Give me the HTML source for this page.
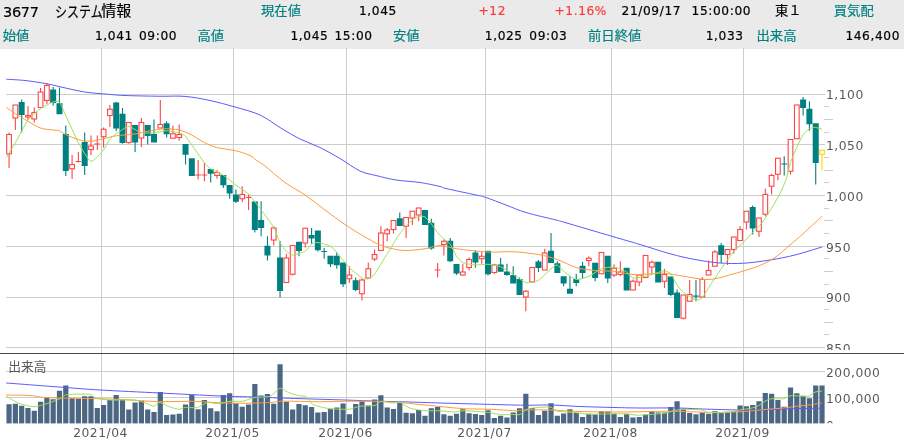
<!DOCTYPE html>
<html lang="ja"><head><meta charset="utf-8"><title>3677 システム情報</title>
<style>
html,body{margin:0;padding:0;background:#fff;}
body{width:904px;height:440px;overflow:hidden;position:relative;font-family:"DejaVu Sans","Liberation Sans","Noto Sans CJK JP",sans-serif;}
#hd{position:absolute;left:0;top:0;width:904px;height:48.5px;background:#eaeaea;}
#hd span{position:absolute;white-space:nowrap;font-size:12.2px;line-height:16px;color:#000;-webkit-text-stroke:0.2px;letter-spacing:0.6px;}
#hd span.j{font-family:"Liberation Sans","Noto Sans CJK JP",sans-serif;font-size:13.33px;letter-spacing:0;transform:scaleY(0.97);transform-origin:0 50%;margin-top:0.7px;}
#hd span.k{transform:scaleX(0.80);transform-origin:0 0;}
#hd span.ti{transform:none;margin-top:0;}
#hd span.t{color:#008080;}
#hd span.r{color:#ff3b3b;}
#hd span.n{text-align:right;}
svg{position:absolute;left:0;top:0;}
svg text{font-family:"DejaVu Sans","Liberation Sans","Noto Sans CJK JP",sans-serif;fill:#585858;}
</style></head><body>
<div id="hd">
<span class="" style="top:3.9px;left:3px;"><span style="position:static;font-size:14.5px;letter-spacing:-0.3px">3677</span></span>
<span class="j k" style="top:3px;left:54.8px;font-size:15px;">システム</span>
<span class="j ti" style="top:3px;left:101.2px;font-size:15px;">情報</span>
<span class="j t" style="top:2.8px;left:261px;">現在値</span>
<span class="n" style="top:2.8px;right:507.1px;">1,045</span>
<span class="r" style="top:2.8px;left:478.5px;">+12</span>
<span class="r" style="top:2.8px;left:554.5px;">+1.16%</span>
<span class="" style="top:2.8px;left:621.6px;">21/09/17</span>
<span class="" style="top:2.8px;left:691.6px;">15:00:00</span>
<span class="j" style="top:2.8px;left:775px;">東１</span>
<span class="j t" style="top:2.8px;left:833.8px;">買気配</span>
<span class="j t" style="top:27.8px;left:2.8px;">始値</span>
<span class="n" style="top:27.8px;right:771.1px;">1,041</span>
<span class="" style="top:27.8px;left:139px;">09:00</span>
<span class="j t" style="top:27.8px;left:197.5px;">高値</span>
<span class="n" style="top:27.8px;right:575.6px;">1,045</span>
<span class="" style="top:27.8px;left:334.5px;">15:00</span>
<span class="j t" style="top:27.8px;left:393px;">安値</span>
<span class="n" style="top:27.8px;right:381.3px;">1,025</span>
<span class="" style="top:27.8px;left:529.3px;">09:03</span>
<span class="j t" style="top:27.8px;left:588px;">前日終値</span>
<span class="n" style="top:27.8px;right:160.4px;">1,033</span>
<span class="j t" style="top:27.8px;left:756.5px;">出来高</span>
<span class="n" style="top:27.8px;right:4px;">146,400</span>
</div>
<svg width="904" height="440" viewBox="0 0 904 440">
<path d="M6 94.50 H825 M6 144.50 H825 M6 195.50 H825 M6 246.50 H825 M6 297.50 H825 M6 347.50 H825 M6 371.50 H825 M6 397.50 H825 M101.50 48 V424 M233.50 48 V424 M346.50 48 V424 M485.50 48 V424 M611.50 48 V424 M743.50 48 V424" stroke="#cdcdcd" stroke-width="1" fill="none"/>
<path d="M824 106.50 H829 M824 119.50 H833 M824 132.50 H829 M824 157.50 H829 M824 170.50 H833 M824 182.50 H829 M824 208.50 H829 M824 220.50 H833 M824 233.50 H829 M824 258.50 H829 M824 271.50 H833 M824 284.50 H829 M824 309.50 H829 M824 322.50 H833 M824 334.50 H829" stroke="#cdcdcd" stroke-width="1" fill="none"/>
<path d="M9.06 132.50 V134.50M9.06 153.75 V168.00" stroke="#ff4545" stroke-width="1.1" fill="none"/>
<rect x="6.71" y="134.50" width="4.70" height="19.25" fill="#fff" stroke="#ff4545" stroke-width="1.1"/>
<path d="M15.36 118.00 V130.00" stroke="#ff4545" stroke-width="1.1" fill="none"/>
<rect x="13.01" y="105.00" width="4.70" height="13.00" fill="#fff" stroke="#ff4545" stroke-width="1.1"/>
<path d="M21.66 99.50 V132.50" stroke="#008080" stroke-width="1.1" fill="none"/>
<rect x="18.66" y="102.00" width="6.00" height="13.00" fill="#008080"/>
<path d="M27.97 106.00 V115.50M27.97 117.00 V120.00" stroke="#ff4545" stroke-width="1.1" fill="none"/>
<rect x="25.62" y="115.50" width="4.70" height="1.50" fill="#fff" stroke="#ff4545" stroke-width="1.1"/>
<path d="M34.27 107.50 V112.50M34.27 119.00 V122.50" stroke="#ff4545" stroke-width="1.1" fill="none"/>
<rect x="31.92" y="112.50" width="4.70" height="6.50" fill="#fff" stroke="#ff4545" stroke-width="1.1"/>
<path d="M40.57 88.00 V92.00" stroke="#ff4545" stroke-width="1.1" fill="none"/>
<rect x="38.22" y="92.00" width="4.70" height="15.50" fill="#fff" stroke="#ff4545" stroke-width="1.1"/>
<path d="M46.87 83.00 V85.50M46.87 100.50 V104.00" stroke="#ff4545" stroke-width="1.1" fill="none"/>
<rect x="44.52" y="85.50" width="4.70" height="15.00" fill="#fff" stroke="#ff4545" stroke-width="1.1"/>
<path d="M53.17 87.00 V105.50" stroke="#008080" stroke-width="1.1" fill="none"/>
<rect x="50.17" y="89.50" width="6.00" height="13.50" fill="#008080"/>
<path d="M59.48 87.50 V113.75" stroke="#008080" stroke-width="1.1" fill="none"/>
<rect x="56.48" y="103.25" width="6.00" height="11.00" fill="#008080"/>
<path d="M65.78 125.50 V176.00" stroke="#008080" stroke-width="1.1" fill="none"/>
<rect x="62.78" y="134.00" width="6.00" height="37.00" fill="#008080"/>
<path d="M72.08 155.00 V164.50M72.08 168.75 V179.00" stroke="#ff4545" stroke-width="1.1" fill="none"/>
<rect x="69.73" y="164.50" width="4.70" height="4.25" fill="#fff" stroke="#ff4545" stroke-width="1.1"/>
<path d="M78.38 152.00 V162.50 M75.53 161.50 H81.23" stroke="#ff4545" stroke-width="1.1" fill="none"/>
<path d="M84.68 132.50 V175.00" stroke="#008080" stroke-width="1.1" fill="none"/>
<rect x="81.68" y="142.00" width="6.00" height="24.00" fill="#008080"/>
<path d="M90.99 135.50 V146.00M90.99 149.50 V155.00" stroke="#ff4545" stroke-width="1.1" fill="none"/>
<rect x="88.64" y="146.00" width="4.70" height="3.50" fill="#fff" stroke="#ff4545" stroke-width="1.1"/>
<path d="M97.29 135.50 V150.00 M94.44 144.00 H100.14" stroke="#ff4545" stroke-width="1.1" fill="none"/>
<path d="M103.59 127.50 V129.25M103.59 136.75 V147.50" stroke="#ff4545" stroke-width="1.1" fill="none"/>
<rect x="101.24" y="129.25" width="4.70" height="7.50" fill="#fff" stroke="#ff4545" stroke-width="1.1"/>
<path d="M109.89 105.00 V109.25M109.89 115.50 V127.00" stroke="#ff4545" stroke-width="1.1" fill="none"/>
<rect x="107.54" y="109.25" width="4.70" height="6.25" fill="#fff" stroke="#ff4545" stroke-width="1.1"/>
<path d="M116.19 102.00 V131.25" stroke="#008080" stroke-width="1.1" fill="none"/>
<rect x="113.19" y="102.50" width="6.00" height="26.00" fill="#008080"/>
<path d="M122.50 108.00 V143.75" stroke="#008080" stroke-width="1.1" fill="none"/>
<rect x="119.50" y="113.75" width="6.00" height="29.25" fill="#008080"/>
<path d="M128.80 142.50 V143.75" stroke="#ff4545" stroke-width="1.1" fill="none"/>
<rect x="126.45" y="122.50" width="4.70" height="20.00" fill="#fff" stroke="#ff4545" stroke-width="1.1"/>
<path d="M135.10 125.50 V152.00" stroke="#008080" stroke-width="1.1" fill="none"/>
<rect x="132.10" y="125.00" width="6.00" height="17.50" fill="#008080"/>
<path d="M141.40 118.00 V122.50M141.40 138.00 V147.00" stroke="#ff4545" stroke-width="1.1" fill="none"/>
<rect x="139.05" y="122.50" width="4.70" height="15.50" fill="#fff" stroke="#ff4545" stroke-width="1.1"/>
<path d="M147.70 125.50 V144.50" stroke="#008080" stroke-width="1.1" fill="none"/>
<rect x="144.70" y="125.00" width="6.00" height="11.00" fill="#008080"/>
<path d="M154.01 119.50 V142.00" stroke="#008080" stroke-width="1.1" fill="none"/>
<rect x="151.01" y="134.00" width="6.00" height="8.50" fill="#008080"/>
<path d="M160.31 100.00 V124.50" stroke="#ff4545" stroke-width="1.1" fill="none"/>
<rect x="157.96" y="124.50" width="4.70" height="3.50" fill="#fff" stroke="#ff4545" stroke-width="1.1"/>
<path d="M166.61 121.25 V137.50" stroke="#008080" stroke-width="1.1" fill="none"/>
<rect x="163.61" y="123.25" width="6.00" height="11.00" fill="#008080"/>
<path d="M172.91 125.50 V133.75" stroke="#ff4545" stroke-width="1.1" fill="none"/>
<rect x="170.56" y="133.75" width="4.70" height="4.50" fill="#fff" stroke="#ff4545" stroke-width="1.1"/>
<path d="M179.21 124.50 V134.50M179.21 137.50 V140.75" stroke="#ff4545" stroke-width="1.1" fill="none"/>
<rect x="176.86" y="134.50" width="4.70" height="3.00" fill="#fff" stroke="#ff4545" stroke-width="1.1"/>
<path d="M185.52 144.50 V164.50" stroke="#008080" stroke-width="1.1" fill="none"/>
<rect x="182.52" y="144.00" width="6.00" height="10.75" fill="#008080"/>
<rect x="188.82" y="158.25" width="6.00" height="17.75" fill="#008080"/>
<path d="M198.12 160.00 V179.50 M195.27 175.00 H200.97" stroke="#ff4545" stroke-width="1.1" fill="none"/>
<path d="M204.42 162.50 V181.25 M201.57 175.00 H207.27" stroke="#ff4545" stroke-width="1.1" fill="none"/>
<path d="M210.72 169.50 V182.50" stroke="#008080" stroke-width="1.1" fill="none"/>
<rect x="207.72" y="169.00" width="6.00" height="4.75" fill="#008080"/>
<path d="M217.03 170.00 V172.50M217.03 175.50 V178.75" stroke="#ff4545" stroke-width="1.1" fill="none"/>
<rect x="214.68" y="172.50" width="4.70" height="3.00" fill="#fff" stroke="#ff4545" stroke-width="1.1"/>
<path d="M223.33 175.50 V188.00" stroke="#008080" stroke-width="1.1" fill="none"/>
<rect x="220.33" y="175.00" width="6.00" height="10.25" fill="#008080"/>
<path d="M229.63 185.50 V198.75" stroke="#008080" stroke-width="1.1" fill="none"/>
<rect x="226.63" y="185.00" width="6.00" height="8.50" fill="#008080"/>
<path d="M235.93 189.50 V203.00" stroke="#008080" stroke-width="1.1" fill="none"/>
<rect x="232.93" y="194.50" width="6.00" height="7.25" fill="#008080"/>
<path d="M242.23 186.25 V194.50M242.23 198.75 V202.00" stroke="#ff4545" stroke-width="1.1" fill="none"/>
<rect x="239.88" y="194.50" width="4.70" height="4.25" fill="#fff" stroke="#ff4545" stroke-width="1.1"/>
<path d="M248.54 194.50 V210.00 M245.69 197.50 H251.39" stroke="#ff4545" stroke-width="1.1" fill="none"/>
<path d="M254.84 202.00 V232.50" stroke="#008080" stroke-width="1.1" fill="none"/>
<rect x="251.84" y="201.50" width="6.00" height="28.50" fill="#008080"/>
<path d="M261.14 201.25 V236.25" stroke="#008080" stroke-width="1.1" fill="none"/>
<rect x="258.14" y="220.00" width="6.00" height="8.00" fill="#008080"/>
<path d="M267.44 236.25 V260.50" stroke="#008080" stroke-width="1.1" fill="none"/>
<rect x="264.44" y="245.75" width="6.00" height="9.75" fill="#008080"/>
<path d="M273.74 226.25 V228.00M273.74 240.00 V245.50" stroke="#ff4545" stroke-width="1.1" fill="none"/>
<rect x="271.39" y="228.00" width="4.70" height="12.00" fill="#fff" stroke="#ff4545" stroke-width="1.1"/>
<path d="M280.05 241.00 V297.40" stroke="#008080" stroke-width="1.1" fill="none"/>
<rect x="277.05" y="257.50" width="6.00" height="33.50" fill="#008080"/>
<path d="M286.35 253.75 V258.00" stroke="#ff4545" stroke-width="1.1" fill="none"/>
<rect x="284.00" y="258.00" width="4.70" height="24.50" fill="#fff" stroke="#ff4545" stroke-width="1.1"/>
<path d="M292.65 274.25 V275.50" stroke="#ff4545" stroke-width="1.1" fill="none"/>
<rect x="290.30" y="245.50" width="4.70" height="28.75" fill="#fff" stroke="#ff4545" stroke-width="1.1"/>
<path d="M298.95 242.25 V256.25" stroke="#008080" stroke-width="1.1" fill="none"/>
<rect x="295.95" y="241.75" width="6.00" height="9.25" fill="#008080"/>
<path d="M305.25 243.00 V247.50" stroke="#ff4545" stroke-width="1.1" fill="none"/>
<rect x="302.90" y="228.25" width="4.70" height="14.75" fill="#fff" stroke="#ff4545" stroke-width="1.1"/>
<path d="M311.56 228.00 V243.75" stroke="#008080" stroke-width="1.1" fill="none"/>
<rect x="308.56" y="235.00" width="6.00" height="3.50" fill="#008080"/>
<path d="M317.86 231.00 V251.50" stroke="#008080" stroke-width="1.1" fill="none"/>
<rect x="314.86" y="230.50" width="6.00" height="19.75" fill="#008080"/>
<path d="M324.16 248.00 V258.75 M321.31 251.50 H327.01" stroke="#008080" stroke-width="1.1" fill="none"/>
<path d="M330.46 256.25 V267.00" stroke="#008080" stroke-width="1.1" fill="none"/>
<rect x="327.46" y="255.75" width="6.00" height="8.50" fill="#008080"/>
<path d="M336.76 252.50 V268.75" stroke="#008080" stroke-width="1.1" fill="none"/>
<rect x="333.76" y="255.75" width="6.00" height="9.50" fill="#008080"/>
<path d="M343.07 263.00 V287.00" stroke="#008080" stroke-width="1.1" fill="none"/>
<rect x="340.07" y="262.50" width="6.00" height="21.75" fill="#008080"/>
<path d="M349.37 266.25 V275.00M349.37 278.75 V283.00" stroke="#ff4545" stroke-width="1.1" fill="none"/>
<rect x="347.02" y="275.00" width="4.70" height="3.75" fill="#fff" stroke="#ff4545" stroke-width="1.1"/>
<path d="M355.67 277.50 V291.25" stroke="#008080" stroke-width="1.1" fill="none"/>
<rect x="352.67" y="280.25" width="6.00" height="9.75" fill="#008080"/>
<path d="M361.97 278.75 V280.00M361.97 293.75 V300.50" stroke="#ff4545" stroke-width="1.1" fill="none"/>
<rect x="359.62" y="280.00" width="4.70" height="13.75" fill="#fff" stroke="#ff4545" stroke-width="1.1"/>
<path d="M368.27 262.50 V268.75M368.27 278.00 V278.75" stroke="#ff4545" stroke-width="1.1" fill="none"/>
<rect x="365.92" y="268.75" width="4.70" height="9.25" fill="#fff" stroke="#ff4545" stroke-width="1.1"/>
<path d="M374.58 249.50 V254.50M374.58 259.00 V261.25" stroke="#ff4545" stroke-width="1.1" fill="none"/>
<rect x="372.23" y="254.50" width="4.70" height="4.50" fill="#fff" stroke="#ff4545" stroke-width="1.1"/>
<path d="M380.88 226.25 V233.00" stroke="#ff4545" stroke-width="1.1" fill="none"/>
<rect x="378.53" y="233.00" width="4.70" height="17.50" fill="#fff" stroke="#ff4545" stroke-width="1.1"/>
<path d="M387.18 228.00 V230.00M387.18 233.75 V241.25" stroke="#ff4545" stroke-width="1.1" fill="none"/>
<rect x="384.83" y="230.00" width="4.70" height="3.75" fill="#fff" stroke="#ff4545" stroke-width="1.1"/>
<path d="M393.48 229.50 V233.50" stroke="#ff4545" stroke-width="1.1" fill="none"/>
<rect x="391.13" y="220.50" width="4.70" height="9.00" fill="#fff" stroke="#ff4545" stroke-width="1.1"/>
<path d="M399.78 212.50 V225.50" stroke="#008080" stroke-width="1.1" fill="none"/>
<rect x="396.78" y="218.25" width="6.00" height="7.75" fill="#008080"/>
<path d="M406.09 226.25 V238.00" stroke="#ff4545" stroke-width="1.1" fill="none"/>
<rect x="403.74" y="217.50" width="4.70" height="8.75" fill="#fff" stroke="#ff4545" stroke-width="1.1"/>
<path d="M412.39 218.00 V225.00" stroke="#ff4545" stroke-width="1.1" fill="none"/>
<rect x="410.04" y="211.25" width="4.70" height="6.75" fill="#fff" stroke="#ff4545" stroke-width="1.1"/>
<path d="M418.69 215.00 V221.25" stroke="#ff4545" stroke-width="1.1" fill="none"/>
<rect x="416.34" y="208.00" width="4.70" height="7.00" fill="#fff" stroke="#ff4545" stroke-width="1.1"/>
<rect x="421.99" y="210.00" width="6.00" height="15.00" fill="#008080"/>
<path d="M431.29 218.75 V249.75" stroke="#008080" stroke-width="1.1" fill="none"/>
<rect x="428.29" y="222.75" width="6.00" height="25.75" fill="#008080"/>
<path d="M437.60 263.00 V277.25 M434.75 270.00 H440.45" stroke="#ff4545" stroke-width="1.1" fill="none"/>
<path d="M443.90 239.50 V241.25M443.90 244.50 V255.50" stroke="#ff4545" stroke-width="1.1" fill="none"/>
<rect x="441.55" y="241.25" width="4.70" height="3.25" fill="#fff" stroke="#ff4545" stroke-width="1.1"/>
<path d="M450.20 238.00 V262.00" stroke="#008080" stroke-width="1.1" fill="none"/>
<rect x="447.20" y="240.75" width="6.00" height="20.50" fill="#008080"/>
<path d="M456.50 264.50 V275.00" stroke="#008080" stroke-width="1.1" fill="none"/>
<rect x="453.50" y="264.00" width="6.00" height="9.50" fill="#008080"/>
<path d="M462.80 263.75 V272.00M462.80 275.00 V275.50" stroke="#ff4545" stroke-width="1.1" fill="none"/>
<rect x="460.45" y="272.00" width="4.70" height="3.00" fill="#fff" stroke="#ff4545" stroke-width="1.1"/>
<path d="M469.11 257.50 V259.50M469.11 267.50 V270.50" stroke="#ff4545" stroke-width="1.1" fill="none"/>
<rect x="466.76" y="259.50" width="4.70" height="8.00" fill="#fff" stroke="#ff4545" stroke-width="1.1"/>
<path d="M475.41 250.00 V267.75" stroke="#008080" stroke-width="1.1" fill="none"/>
<rect x="472.41" y="252.50" width="6.00" height="10.00" fill="#008080"/>
<path d="M481.71 252.00 V256.25M481.71 258.75 V263.75" stroke="#ff4545" stroke-width="1.1" fill="none"/>
<rect x="479.36" y="256.25" width="4.70" height="2.50" fill="#fff" stroke="#ff4545" stroke-width="1.1"/>
<path d="M488.01 251.25 V275.50" stroke="#008080" stroke-width="1.1" fill="none"/>
<rect x="485.01" y="250.75" width="6.00" height="23.50" fill="#008080"/>
<path d="M494.31 263.75 V265.00M494.31 272.50 V273.75" stroke="#ff4545" stroke-width="1.1" fill="none"/>
<rect x="491.96" y="265.00" width="4.70" height="7.50" fill="#fff" stroke="#ff4545" stroke-width="1.1"/>
<path d="M500.62 258.00 V271.25" stroke="#008080" stroke-width="1.1" fill="none"/>
<rect x="497.62" y="264.50" width="6.00" height="7.25" fill="#008080"/>
<path d="M506.92 263.75 V275.75" stroke="#008080" stroke-width="1.1" fill="none"/>
<rect x="503.92" y="271.50" width="6.00" height="3.50" fill="#008080"/>
<path d="M513.22 266.25 V283.00" stroke="#008080" stroke-width="1.1" fill="none"/>
<rect x="510.22" y="275.00" width="6.00" height="8.50" fill="#008080"/>
<path d="M519.52 277.50 V294.50" stroke="#008080" stroke-width="1.1" fill="none"/>
<rect x="516.52" y="279.00" width="6.00" height="16.00" fill="#008080"/>
<path d="M525.82 290.00 V291.25M525.82 297.00 V311.25" stroke="#ff4545" stroke-width="1.1" fill="none"/>
<rect x="523.47" y="291.25" width="4.70" height="5.75" fill="#fff" stroke="#ff4545" stroke-width="1.1"/>
<rect x="529.78" y="267.50" width="4.70" height="14.50" fill="#fff" stroke="#ff4545" stroke-width="1.1"/>
<path d="M538.43 260.00 V272.00" stroke="#008080" stroke-width="1.1" fill="none"/>
<rect x="535.43" y="261.50" width="6.00" height="6.50" fill="#008080"/>
<path d="M544.73 248.75 V253.00" stroke="#ff4545" stroke-width="1.1" fill="none"/>
<rect x="542.38" y="253.00" width="4.70" height="17.00" fill="#fff" stroke="#ff4545" stroke-width="1.1"/>
<path d="M551.03 233.00 V262.50" stroke="#008080" stroke-width="1.1" fill="none"/>
<rect x="548.03" y="250.75" width="6.00" height="12.25" fill="#008080"/>
<path d="M557.33 261.25 V272.50" stroke="#008080" stroke-width="1.1" fill="none"/>
<rect x="554.33" y="263.25" width="6.00" height="9.75" fill="#008080"/>
<path d="M563.64 276.75 V286.25" stroke="#008080" stroke-width="1.1" fill="none"/>
<rect x="560.64" y="276.25" width="6.00" height="7.25" fill="#008080"/>
<path d="M569.94 276.25 V293.25" stroke="#008080" stroke-width="1.1" fill="none"/>
<rect x="566.94" y="288.75" width="6.00" height="5.00" fill="#008080"/>
<path d="M576.24 273.75 V286.25" stroke="#008080" stroke-width="1.1" fill="none"/>
<rect x="573.24" y="279.00" width="6.00" height="4.00" fill="#008080"/>
<path d="M582.54 262.00 V278.75" stroke="#008080" stroke-width="1.1" fill="none"/>
<rect x="579.54" y="265.75" width="6.00" height="7.25" fill="#008080"/>
<path d="M588.84 256.25 V258.25M588.84 260.50 V266.25" stroke="#ff4545" stroke-width="1.1" fill="none"/>
<rect x="586.49" y="258.25" width="4.70" height="2.25" fill="#fff" stroke="#ff4545" stroke-width="1.1"/>
<path d="M595.15 263.25 V281.25" stroke="#008080" stroke-width="1.1" fill="none"/>
<rect x="592.15" y="262.75" width="6.00" height="15.25" fill="#008080"/>
<rect x="599.10" y="252.50" width="4.70" height="21.25" fill="#fff" stroke="#ff4545" stroke-width="1.1"/>
<path d="M607.75 256.25 V283.00" stroke="#008080" stroke-width="1.1" fill="none"/>
<rect x="604.75" y="255.75" width="6.00" height="22.75" fill="#008080"/>
<path d="M614.05 264.50 V268.25M614.05 275.00 V277.00" stroke="#ff4545" stroke-width="1.1" fill="none"/>
<rect x="611.70" y="268.25" width="4.70" height="6.75" fill="#fff" stroke="#ff4545" stroke-width="1.1"/>
<path d="M620.35 261.25 V272.00M620.35 274.50 V276.25" stroke="#ff4545" stroke-width="1.1" fill="none"/>
<rect x="618.00" y="272.00" width="4.70" height="2.50" fill="#fff" stroke="#ff4545" stroke-width="1.1"/>
<rect x="623.66" y="267.75" width="6.00" height="22.75" fill="#008080"/>
<path d="M632.96 279.50 V281.25" stroke="#ff4545" stroke-width="1.1" fill="none"/>
<rect x="630.61" y="281.25" width="4.70" height="8.75" fill="#fff" stroke="#ff4545" stroke-width="1.1"/>
<path d="M639.26 282.00 V286.25" stroke="#ff4545" stroke-width="1.1" fill="none"/>
<rect x="636.91" y="275.00" width="4.70" height="7.00" fill="#fff" stroke="#ff4545" stroke-width="1.1"/>
<rect x="643.21" y="255.50" width="4.70" height="22.00" fill="#fff" stroke="#ff4545" stroke-width="1.1"/>
<path d="M651.86 260.50 V262.25M651.86 267.00 V273.75" stroke="#ff4545" stroke-width="1.1" fill="none"/>
<rect x="649.51" y="262.25" width="4.70" height="4.75" fill="#fff" stroke="#ff4545" stroke-width="1.1"/>
<rect x="655.17" y="261.75" width="6.00" height="20.75" fill="#008080"/>
<path d="M664.47 268.75 V274.50M664.47 281.25 V288.00" stroke="#ff4545" stroke-width="1.1" fill="none"/>
<rect x="662.12" y="274.50" width="4.70" height="6.75" fill="#fff" stroke="#ff4545" stroke-width="1.1"/>
<path d="M670.77 277.00 V296.25" stroke="#008080" stroke-width="1.1" fill="none"/>
<rect x="667.77" y="276.50" width="6.00" height="18.50" fill="#008080"/>
<path d="M677.07 289.50 V317.50" stroke="#008080" stroke-width="1.1" fill="none"/>
<rect x="674.07" y="292.50" width="6.00" height="25.50" fill="#008080"/>
<path d="M683.37 318.25 V319.50" stroke="#ff4545" stroke-width="1.1" fill="none"/>
<rect x="681.02" y="295.00" width="4.70" height="23.25" fill="#fff" stroke="#ff4545" stroke-width="1.1"/>
<path d="M689.68 280.00 V294.50" stroke="#ff4545" stroke-width="1.1" fill="none"/>
<rect x="687.33" y="294.50" width="4.70" height="6.75" fill="#fff" stroke="#ff4545" stroke-width="1.1"/>
<path d="M695.98 280.00 V301.25 M693.13 296.12 H698.83" stroke="#008080" stroke-width="1.1" fill="none"/>
<path d="M702.28 277.00 V279.50" stroke="#ff4545" stroke-width="1.1" fill="none"/>
<rect x="699.93" y="279.50" width="4.70" height="17.50" fill="#fff" stroke="#ff4545" stroke-width="1.1"/>
<path d="M708.58 260.50 V270.50" stroke="#ff4545" stroke-width="1.1" fill="none"/>
<rect x="706.23" y="270.50" width="4.70" height="4.50" fill="#fff" stroke="#ff4545" stroke-width="1.1"/>
<path d="M714.88 250.00 V252.00" stroke="#ff4545" stroke-width="1.1" fill="none"/>
<rect x="712.53" y="252.00" width="4.70" height="14.25" fill="#fff" stroke="#ff4545" stroke-width="1.1"/>
<path d="M721.19 243.00 V263.00" stroke="#008080" stroke-width="1.1" fill="none"/>
<rect x="718.19" y="245.25" width="6.00" height="9.75" fill="#008080"/>
<path d="M727.49 254.50 V265.00" stroke="#ff4545" stroke-width="1.1" fill="none"/>
<rect x="725.14" y="249.50" width="4.70" height="5.00" fill="#fff" stroke="#ff4545" stroke-width="1.1"/>
<path d="M733.79 249.50 V253.75" stroke="#ff4545" stroke-width="1.1" fill="none"/>
<rect x="731.44" y="237.00" width="4.70" height="12.50" fill="#fff" stroke="#ff4545" stroke-width="1.1"/>
<path d="M740.09 226.25 V229.50" stroke="#ff4545" stroke-width="1.1" fill="none"/>
<rect x="737.74" y="229.50" width="4.70" height="11.00" fill="#fff" stroke="#ff4545" stroke-width="1.1"/>
<path d="M746.39 222.00 V229.50" stroke="#ff4545" stroke-width="1.1" fill="none"/>
<rect x="744.04" y="211.25" width="4.70" height="10.75" fill="#fff" stroke="#ff4545" stroke-width="1.1"/>
<path d="M752.70 205.50 V234.50" stroke="#008080" stroke-width="1.1" fill="none"/>
<rect x="749.70" y="207.00" width="6.00" height="21.50" fill="#008080"/>
<path d="M759.00 231.25 V237.00" stroke="#ff4545" stroke-width="1.1" fill="none"/>
<rect x="756.65" y="218.00" width="4.70" height="13.25" fill="#fff" stroke="#ff4545" stroke-width="1.1"/>
<path d="M765.30 188.75 V194.50M765.30 214.25 V216.25" stroke="#ff4545" stroke-width="1.1" fill="none"/>
<rect x="762.95" y="194.50" width="4.70" height="19.75" fill="#fff" stroke="#ff4545" stroke-width="1.1"/>
<path d="M771.60 173.75 V175.50M771.60 186.25 V194.50" stroke="#ff4545" stroke-width="1.1" fill="none"/>
<rect x="769.25" y="175.50" width="4.70" height="10.75" fill="#fff" stroke="#ff4545" stroke-width="1.1"/>
<path d="M777.90 174.25 V180.25" stroke="#ff4545" stroke-width="1.1" fill="none"/>
<rect x="775.55" y="158.25" width="4.70" height="16.00" fill="#fff" stroke="#ff4545" stroke-width="1.1"/>
<path d="M784.21 156.25 V175.50 M781.36 164.05 H787.06" stroke="#008080" stroke-width="1.1" fill="none"/>
<path d="M790.51 171.25 V174.50" stroke="#ff4545" stroke-width="1.1" fill="none"/>
<rect x="788.16" y="139.50" width="4.70" height="31.75" fill="#fff" stroke="#ff4545" stroke-width="1.1"/>
<rect x="794.46" y="105.00" width="4.70" height="33.75" fill="#fff" stroke="#ff4545" stroke-width="1.1"/>
<path d="M803.11 97.00 V115.50" stroke="#008080" stroke-width="1.1" fill="none"/>
<rect x="800.11" y="99.50" width="6.00" height="8.50" fill="#008080"/>
<path d="M809.41 101.25 V130.75" stroke="#008080" stroke-width="1.1" fill="none"/>
<rect x="806.41" y="108.75" width="6.00" height="15.50" fill="#008080"/>
<path d="M815.72 123.75 V184.50" stroke="#008080" stroke-width="1.1" fill="none"/>
<rect x="812.72" y="123.25" width="6.00" height="39.75" fill="#008080"/>
<path d="M822.02 154.40 V170.50" stroke="#ffd700" stroke-width="1.1" fill="none"/>
<rect x="819.67" y="150.30" width="4.70" height="4.10" fill="#fff" stroke="#ffd700" stroke-width="1.1"/>
<path d="M6.25 79.25 C9.38 79.46 18.25 79.75 25.00 80.50 C31.75 81.25 40.00 82.50 46.75 83.75 C53.50 85.00 59.21 86.62 65.50 88.00 C71.79 89.38 78.17 91.02 84.50 92.00 C90.83 92.98 96.75 93.32 103.50 93.90 C110.25 94.48 115.58 95.11 125.00 95.50 C134.42 95.89 150.00 96.10 160.00 96.25 C170.00 96.40 176.67 95.69 185.00 96.40 C193.33 97.11 201.67 98.73 210.00 100.50 C218.33 102.27 226.67 104.58 235.00 107.00 C243.33 109.42 252.50 111.58 260.00 115.00 C267.50 118.42 273.33 123.50 280.00 127.50 C286.67 131.50 293.33 135.67 300.00 139.00 C306.67 142.33 313.33 144.25 320.00 147.50 C326.67 150.75 333.33 154.58 340.00 158.50 C346.67 162.42 354.00 168.17 360.00 171.00 C366.00 173.83 370.00 174.00 376.00 175.50 C382.00 177.00 388.67 178.83 396.00 180.00 C403.33 181.17 412.67 181.42 420.00 182.50 C427.33 183.58 435.67 185.50 440.00 186.50 C444.33 187.50 440.00 187.08 446.00 188.50 C452.00 189.92 469.33 193.50 476.00 195.00 C482.67 196.50 481.00 195.83 486.00 197.50 C491.00 199.17 499.33 202.50 506.00 205.00 C512.67 207.50 517.67 210.00 526.00 212.50 C534.33 215.00 549.50 218.33 556.00 220.00 C562.50 221.67 555.71 219.79 565.00 222.50 C574.29 225.21 599.25 232.58 611.75 236.25 C624.25 239.92 630.29 241.58 640.00 244.50 C649.71 247.42 660.83 251.25 670.00 253.75 C679.17 256.25 686.67 257.96 695.00 259.50 C703.33 261.04 711.92 262.38 720.00 263.00 C728.08 263.62 735.17 263.75 743.50 263.25 C751.83 262.75 761.42 261.38 770.00 260.00 C778.58 258.62 786.33 257.17 795.00 255.00 C803.67 252.83 817.50 248.33 822.00 247.00" stroke="#5a5aff" stroke-width="1" fill="none" stroke-linejoin="round"/>
<path d="M6.25 107.50 C7.79 108.54 11.88 111.46 15.50 113.75 C19.12 116.04 23.83 118.88 28.00 121.25 C32.17 123.62 36.33 126.54 40.50 128.00 C44.67 129.46 49.88 129.54 53.00 130.00 C56.12 130.46 57.17 130.00 59.25 130.75 C61.33 131.50 62.33 133.04 65.50 134.50 C68.67 135.96 74.04 138.38 78.25 139.50 C82.46 140.62 86.54 141.38 90.75 141.25 C94.96 141.12 99.25 139.66 103.50 138.75 C107.75 137.84 111.00 136.59 116.25 135.80 C121.50 135.01 129.88 134.75 135.00 134.00 C140.12 133.25 142.83 132.08 147.00 131.30 C151.17 130.52 156.79 129.73 160.00 129.30 C163.21 128.88 163.08 128.63 166.25 128.75 C169.42 128.87 174.75 128.96 179.00 130.00 C183.25 131.04 187.54 132.92 191.75 135.00 C195.96 137.08 200.08 140.42 204.25 142.50 C208.42 144.58 211.50 146.12 216.75 147.50 C222.00 148.88 230.21 149.42 235.75 150.75 C241.29 152.08 246.62 153.96 250.00 155.50 C253.38 157.04 253.50 158.25 256.00 160.00 C258.50 161.75 260.17 162.25 265.00 166.00 C269.83 169.75 278.33 177.67 285.00 182.50 C291.67 187.33 298.33 190.42 305.00 195.00 C311.67 199.58 318.33 205.08 325.00 210.00 C331.67 214.92 338.75 220.25 345.00 224.50 C351.25 228.75 356.67 232.08 362.50 235.50 C368.33 238.92 375.00 242.79 380.00 245.00 C385.00 247.21 388.17 247.83 392.50 248.75 C396.83 249.67 400.58 250.50 406.00 250.50 C411.42 250.50 419.33 249.58 425.00 248.75 C430.67 247.92 434.75 245.50 440.00 245.50 C445.25 245.50 448.50 247.67 456.50 248.75 C464.50 249.83 478.58 251.50 488.00 252.00 C497.42 252.50 504.62 251.33 513.00 251.75 C521.38 252.17 530.88 253.21 538.25 254.50 C545.62 255.79 550.92 257.33 557.25 259.50 C563.58 261.67 569.92 265.67 576.25 267.50 C582.58 269.33 588.96 269.88 595.25 270.50 C601.54 271.12 607.71 270.58 614.00 271.25 C620.29 271.92 626.71 274.08 633.00 274.50 C639.29 274.92 646.50 273.96 651.75 273.75 C657.00 273.54 659.21 272.83 664.50 273.25 C669.79 273.67 677.21 275.25 683.50 276.25 C689.79 277.25 697.00 278.83 702.25 279.25 C707.50 279.67 709.71 279.67 715.00 278.75 C720.29 277.83 728.75 275.21 734.00 273.75 C739.25 272.29 742.29 271.33 746.50 270.00 C750.71 268.67 754.50 267.83 759.25 265.75 C764.00 263.67 769.88 260.96 775.00 257.50 C780.12 254.04 785.33 248.96 790.00 245.00 C794.67 241.04 797.67 238.54 803.00 233.75 C808.33 228.96 818.83 219.17 822.00 216.25" stroke="#ff9a3c" stroke-width="1" fill="none" stroke-linejoin="round"/>
<path d="M6.25 157.50 C7.17 156.00 13.32 146.25 15.50 142.50 C17.68 138.75 25.50 123.38 28.00 120.00 C30.50 116.62 38.00 110.55 40.50 108.75 C43.00 106.95 51.12 102.70 53.00 102.00 C54.88 101.30 58.00 100.45 59.25 101.75 C60.50 103.05 63.60 110.92 65.50 115.00 C67.40 119.08 75.72 137.88 78.25 142.50 C80.78 147.12 88.22 160.50 90.75 161.25 C93.28 162.00 101.58 152.25 103.50 150.00 C105.42 147.75 108.10 140.80 110.00 138.75 C111.90 136.70 120.62 130.75 122.50 129.50 C124.38 128.25 127.50 126.25 128.75 126.25 C130.00 126.25 133.75 128.88 135.00 129.50 C136.25 130.12 139.38 132.15 141.25 132.50 C143.12 132.85 151.25 133.18 153.75 133.00 C156.25 132.82 163.72 130.75 166.25 130.75 C168.78 130.75 177.07 132.45 179.00 133.00 C180.93 133.55 184.22 135.05 185.50 136.25 C186.78 137.45 189.88 142.38 191.75 145.00 C193.62 147.62 202.38 160.12 204.25 162.50 C206.12 164.88 208.62 167.50 210.50 168.75 C212.38 170.00 220.47 173.38 223.00 175.00 C225.53 176.62 233.20 183.10 235.75 185.00 C238.30 186.90 245.95 191.50 248.50 194.00 C251.05 196.50 258.73 206.65 261.25 210.00 C263.77 213.35 271.88 224.25 273.75 227.50 C275.62 230.75 278.75 240.12 280.00 242.50 C281.25 244.88 284.98 250.00 286.25 251.25 C287.52 252.50 290.85 255.00 292.75 255.00 C294.65 255.00 303.35 252.38 305.25 251.25 C307.15 250.12 310.48 244.62 311.75 243.75 C313.02 242.88 316.12 242.25 318.00 242.50 C319.88 242.75 328.62 245.25 330.50 246.25 C332.38 247.25 334.88 250.38 336.75 252.50 C338.62 254.62 346.73 264.95 349.25 267.50 C351.77 270.05 360.10 276.88 362.00 278.00 C363.90 279.12 366.98 279.18 368.25 278.75 C369.52 278.32 372.85 276.25 374.75 273.75 C376.65 271.25 384.75 257.75 387.25 253.75 C389.75 249.75 397.25 237.12 399.75 233.75 C402.25 230.38 410.35 221.75 412.25 220.00 C414.15 218.25 417.48 216.55 418.75 216.25 C420.02 215.95 423.75 216.25 425.00 217.00 C426.25 217.75 430.00 222.20 431.25 223.75 C432.50 225.30 436.25 230.97 437.50 232.50 C438.75 234.03 442.50 237.88 443.75 239.00 C445.00 240.12 448.73 242.03 450.00 243.75 C451.27 245.47 455.23 254.38 456.50 256.25 C457.77 258.12 460.88 261.62 462.75 262.50 C464.62 263.38 472.73 264.82 475.25 265.00 C477.77 265.18 485.48 264.07 488.00 264.25 C490.52 264.43 498.00 265.75 500.50 266.75 C503.00 267.75 510.48 272.68 513.00 274.25 C515.52 275.82 523.23 281.88 525.75 282.50 C528.27 283.12 535.73 281.88 538.25 280.50 C540.77 279.12 549.10 270.30 551.00 268.75 C552.90 267.20 556.00 264.75 557.25 265.00 C558.50 265.25 561.60 269.80 563.50 271.25 C565.40 272.70 573.70 279.00 576.25 279.50 C578.80 280.00 586.48 277.32 589.00 276.25 C591.52 275.18 599.00 269.68 601.50 268.75 C604.00 267.82 611.48 266.68 614.00 267.00 C616.52 267.32 624.85 270.90 626.75 272.00 C628.65 273.10 631.12 277.57 633.00 278.00 C634.88 278.43 642.98 276.80 645.50 276.25 C648.02 275.70 656.35 273.05 658.25 272.50 C660.15 271.95 663.25 270.62 664.50 270.75 C665.75 270.88 669.50 272.32 670.75 273.75 C672.00 275.18 675.73 283.12 677.00 285.00 C678.27 286.88 681.60 291.00 683.50 292.50 C685.40 294.00 694.12 299.50 696.00 300.00 C697.88 300.50 700.98 298.75 702.25 297.50 C703.52 296.25 706.85 290.38 708.75 287.50 C710.65 284.62 718.73 272.38 721.25 268.75 C723.77 265.12 731.80 253.85 734.00 251.25 C736.20 248.65 741.37 244.55 743.20 242.70 C745.03 240.84 750.48 234.61 752.30 232.70 C754.12 230.79 759.58 225.87 761.40 223.60 C763.22 221.33 768.69 212.91 770.50 210.00 C772.31 207.09 777.96 197.50 779.50 194.50 C781.04 191.50 784.80 183.20 785.90 180.00 C787.00 176.80 789.41 165.75 790.50 162.50 C791.59 159.25 795.50 150.25 796.75 147.50 C798.00 144.75 801.75 136.88 803.00 135.00 C804.25 133.12 808.00 129.50 809.25 128.75 C810.50 128.00 814.23 127.45 815.50 127.50 C816.77 127.55 821.35 129.07 822.00 129.25" stroke="#9ee05a" stroke-width="1" fill="none" stroke-linejoin="round"/>
<text x="826" y="99.00" font-size="12.3" letter-spacing="0.5">1,100</text>
<text x="826" y="150.00" font-size="12.3" letter-spacing="0.5">1,050</text>
<text x="826" y="201.00" font-size="12.3" letter-spacing="0.5">1,000</text>
<text x="826" y="252.00" font-size="12.3" letter-spacing="0.5">950</text>
<text x="826" y="302.00" font-size="12.3" letter-spacing="0.5">900</text>
<clipPath id="c850"><rect x="820" y="330" width="84" height="20"/></clipPath>
<text x="826" y="352.8" font-size="12.3" letter-spacing="0.5" clip-path="url(#c850)">850</text>
<path d="M0 353.5 H904" stroke="#484848" stroke-width="1.1" fill="none"/>
<rect x="6.46" y="404.25" width="5.2" height="19.15" fill="#4c6783"/>
<rect x="12.76" y="403.75" width="5.2" height="19.65" fill="#4c6783"/>
<rect x="19.06" y="405.75" width="5.2" height="17.65" fill="#4c6783"/>
<rect x="25.37" y="408.00" width="5.2" height="15.40" fill="#4c6783"/>
<rect x="31.67" y="410.75" width="5.2" height="12.65" fill="#4c6783"/>
<rect x="37.97" y="401.75" width="5.2" height="21.65" fill="#4c6783"/>
<rect x="44.27" y="397.50" width="5.2" height="25.90" fill="#4c6783"/>
<rect x="50.57" y="399.25" width="5.2" height="24.15" fill="#4c6783"/>
<rect x="56.88" y="390.75" width="5.2" height="32.65" fill="#4c6783"/>
<rect x="63.18" y="385.50" width="5.2" height="37.90" fill="#4c6783"/>
<rect x="69.48" y="398.25" width="5.2" height="25.15" fill="#4c6783"/>
<rect x="75.78" y="398.75" width="5.2" height="24.65" fill="#4c6783"/>
<rect x="82.08" y="396.25" width="5.2" height="27.15" fill="#4c6783"/>
<rect x="88.39" y="396.25" width="5.2" height="27.15" fill="#4c6783"/>
<rect x="94.69" y="408.00" width="5.2" height="15.40" fill="#4c6783"/>
<rect x="100.99" y="405.00" width="5.2" height="18.40" fill="#4c6783"/>
<rect x="107.29" y="400.00" width="5.2" height="23.40" fill="#4c6783"/>
<rect x="113.59" y="395.00" width="5.2" height="28.40" fill="#4c6783"/>
<rect x="119.90" y="399.50" width="5.2" height="23.90" fill="#4c6783"/>
<rect x="126.20" y="409.50" width="5.2" height="13.90" fill="#4c6783"/>
<rect x="132.50" y="402.50" width="5.2" height="20.90" fill="#4c6783"/>
<rect x="138.80" y="400.75" width="5.2" height="22.65" fill="#4c6783"/>
<rect x="145.10" y="409.50" width="5.2" height="13.90" fill="#4c6783"/>
<rect x="151.41" y="412.00" width="5.2" height="11.40" fill="#4c6783"/>
<rect x="157.71" y="392.00" width="5.2" height="31.40" fill="#4c6783"/>
<rect x="164.01" y="415.00" width="5.2" height="8.40" fill="#4c6783"/>
<rect x="170.31" y="414.50" width="5.2" height="8.90" fill="#4c6783"/>
<rect x="176.61" y="413.75" width="5.2" height="9.65" fill="#4c6783"/>
<rect x="182.92" y="404.50" width="5.2" height="18.90" fill="#4c6783"/>
<rect x="189.22" y="395.00" width="5.2" height="28.40" fill="#4c6783"/>
<rect x="195.52" y="409.25" width="5.2" height="14.15" fill="#4c6783"/>
<rect x="201.82" y="400.00" width="5.2" height="23.40" fill="#4c6783"/>
<rect x="208.12" y="408.25" width="5.2" height="15.15" fill="#4c6783"/>
<rect x="214.43" y="411.25" width="5.2" height="12.15" fill="#4c6783"/>
<rect x="220.73" y="395.00" width="5.2" height="28.40" fill="#4c6783"/>
<rect x="227.03" y="393.25" width="5.2" height="30.15" fill="#4c6783"/>
<rect x="233.33" y="403.25" width="5.2" height="20.15" fill="#4c6783"/>
<rect x="239.63" y="406.75" width="5.2" height="16.65" fill="#4c6783"/>
<rect x="245.94" y="404.50" width="5.2" height="18.90" fill="#4c6783"/>
<rect x="252.24" y="384.00" width="5.2" height="39.40" fill="#4c6783"/>
<rect x="258.54" y="395.50" width="5.2" height="27.90" fill="#4c6783"/>
<rect x="264.84" y="394.00" width="5.2" height="29.40" fill="#4c6783"/>
<rect x="271.14" y="403.75" width="5.2" height="19.65" fill="#4c6783"/>
<rect x="277.45" y="364.25" width="5.2" height="59.15" fill="#4c6783"/>
<rect x="283.75" y="401.75" width="5.2" height="21.65" fill="#4c6783"/>
<rect x="290.05" y="409.50" width="5.2" height="13.90" fill="#4c6783"/>
<rect x="296.35" y="404.00" width="5.2" height="19.40" fill="#4c6783"/>
<rect x="302.65" y="405.25" width="5.2" height="18.15" fill="#4c6783"/>
<rect x="308.96" y="407.00" width="5.2" height="16.40" fill="#4c6783"/>
<rect x="315.26" y="412.50" width="5.2" height="10.90" fill="#4c6783"/>
<rect x="321.56" y="412.00" width="5.2" height="11.40" fill="#4c6783"/>
<rect x="327.86" y="408.75" width="5.2" height="14.65" fill="#4c6783"/>
<rect x="334.16" y="407.50" width="5.2" height="15.90" fill="#4c6783"/>
<rect x="340.47" y="403.50" width="5.2" height="19.90" fill="#4c6783"/>
<rect x="346.77" y="414.25" width="5.2" height="9.15" fill="#4c6783"/>
<rect x="353.07" y="404.00" width="5.2" height="19.40" fill="#4c6783"/>
<rect x="359.37" y="401.25" width="5.2" height="22.15" fill="#4c6783"/>
<rect x="365.67" y="405.50" width="5.2" height="17.90" fill="#4c6783"/>
<rect x="371.98" y="399.50" width="5.2" height="23.90" fill="#4c6783"/>
<rect x="378.28" y="395.25" width="5.2" height="28.15" fill="#4c6783"/>
<rect x="384.58" y="407.50" width="5.2" height="15.90" fill="#4c6783"/>
<rect x="390.88" y="409.00" width="5.2" height="14.40" fill="#4c6783"/>
<rect x="397.18" y="403.00" width="5.2" height="20.40" fill="#4c6783"/>
<rect x="403.49" y="412.75" width="5.2" height="10.65" fill="#4c6783"/>
<rect x="409.79" y="413.25" width="5.2" height="10.15" fill="#4c6783"/>
<rect x="416.09" y="410.00" width="5.2" height="13.40" fill="#4c6783"/>
<rect x="422.39" y="415.75" width="5.2" height="7.65" fill="#4c6783"/>
<rect x="428.69" y="408.25" width="5.2" height="15.15" fill="#4c6783"/>
<rect x="435.00" y="407.00" width="5.2" height="16.40" fill="#4c6783"/>
<rect x="441.30" y="414.25" width="5.2" height="9.15" fill="#4c6783"/>
<rect x="447.60" y="415.75" width="5.2" height="7.65" fill="#4c6783"/>
<rect x="453.90" y="413.75" width="5.2" height="9.65" fill="#4c6783"/>
<rect x="460.20" y="409.25" width="5.2" height="14.15" fill="#4c6783"/>
<rect x="466.51" y="413.25" width="5.2" height="10.15" fill="#4c6783"/>
<rect x="472.81" y="414.00" width="5.2" height="9.40" fill="#4c6783"/>
<rect x="479.11" y="415.00" width="5.2" height="8.40" fill="#4c6783"/>
<rect x="485.41" y="410.25" width="5.2" height="13.15" fill="#4c6783"/>
<rect x="491.71" y="418.00" width="5.2" height="5.40" fill="#4c6783"/>
<rect x="498.02" y="415.75" width="5.2" height="7.65" fill="#4c6783"/>
<rect x="504.32" y="417.50" width="5.2" height="5.90" fill="#4c6783"/>
<rect x="510.62" y="412.50" width="5.2" height="10.90" fill="#4c6783"/>
<rect x="516.92" y="408.25" width="5.2" height="15.15" fill="#4c6783"/>
<rect x="523.22" y="393.75" width="5.2" height="29.65" fill="#4c6783"/>
<rect x="529.53" y="408.00" width="5.2" height="15.40" fill="#4c6783"/>
<rect x="535.83" y="415.00" width="5.2" height="8.40" fill="#4c6783"/>
<rect x="542.13" y="410.75" width="5.2" height="12.65" fill="#4c6783"/>
<rect x="548.43" y="403.25" width="5.2" height="20.15" fill="#4c6783"/>
<rect x="554.73" y="415.75" width="5.2" height="7.65" fill="#4c6783"/>
<rect x="561.04" y="413.50" width="5.2" height="9.90" fill="#4c6783"/>
<rect x="567.34" y="409.25" width="5.2" height="14.15" fill="#4c6783"/>
<rect x="573.64" y="413.00" width="5.2" height="10.40" fill="#4c6783"/>
<rect x="579.94" y="417.00" width="5.2" height="6.40" fill="#4c6783"/>
<rect x="586.24" y="413.75" width="5.2" height="9.65" fill="#4c6783"/>
<rect x="592.55" y="414.25" width="5.2" height="9.15" fill="#4c6783"/>
<rect x="598.85" y="411.25" width="5.2" height="12.15" fill="#4c6783"/>
<rect x="605.15" y="411.50" width="5.2" height="11.90" fill="#4c6783"/>
<rect x="611.45" y="413.75" width="5.2" height="9.65" fill="#4c6783"/>
<rect x="617.75" y="417.00" width="5.2" height="6.40" fill="#4c6783"/>
<rect x="624.06" y="413.75" width="5.2" height="9.65" fill="#4c6783"/>
<rect x="630.36" y="417.50" width="5.2" height="5.90" fill="#4c6783"/>
<rect x="636.66" y="417.00" width="5.2" height="6.40" fill="#4c6783"/>
<rect x="642.96" y="414.50" width="5.2" height="8.90" fill="#4c6783"/>
<rect x="649.26" y="411.25" width="5.2" height="12.15" fill="#4c6783"/>
<rect x="655.57" y="412.50" width="5.2" height="10.90" fill="#4c6783"/>
<rect x="661.87" y="412.50" width="5.2" height="10.90" fill="#4c6783"/>
<rect x="668.17" y="407.00" width="5.2" height="16.40" fill="#4c6783"/>
<rect x="674.47" y="401.25" width="5.2" height="22.15" fill="#4c6783"/>
<rect x="680.77" y="408.75" width="5.2" height="14.65" fill="#4c6783"/>
<rect x="687.08" y="413.00" width="5.2" height="10.40" fill="#4c6783"/>
<rect x="693.38" y="414.25" width="5.2" height="9.15" fill="#4c6783"/>
<rect x="699.68" y="412.50" width="5.2" height="10.90" fill="#4c6783"/>
<rect x="705.98" y="413.75" width="5.2" height="9.65" fill="#4c6783"/>
<rect x="712.28" y="411.25" width="5.2" height="12.15" fill="#4c6783"/>
<rect x="718.59" y="413.00" width="5.2" height="10.40" fill="#4c6783"/>
<rect x="724.89" y="411.75" width="5.2" height="11.65" fill="#4c6783"/>
<rect x="731.19" y="411.25" width="5.2" height="12.15" fill="#4c6783"/>
<rect x="737.49" y="405.50" width="5.2" height="17.90" fill="#4c6783"/>
<rect x="743.79" y="406.25" width="5.2" height="17.15" fill="#4c6783"/>
<rect x="750.10" y="405.00" width="5.2" height="18.40" fill="#4c6783"/>
<rect x="756.40" y="401.25" width="5.2" height="22.15" fill="#4c6783"/>
<rect x="762.70" y="393.00" width="5.2" height="30.40" fill="#4c6783"/>
<rect x="769.00" y="393.75" width="5.2" height="29.65" fill="#4c6783"/>
<rect x="775.30" y="400.00" width="5.2" height="23.40" fill="#4c6783"/>
<rect x="781.61" y="406.75" width="5.2" height="16.65" fill="#4c6783"/>
<rect x="787.91" y="387.50" width="5.2" height="35.90" fill="#4c6783"/>
<rect x="794.21" y="393.25" width="5.2" height="30.15" fill="#4c6783"/>
<rect x="800.51" y="395.75" width="5.2" height="27.65" fill="#4c6783"/>
<rect x="806.81" y="398.25" width="5.2" height="25.15" fill="#4c6783"/>
<rect x="813.12" y="385.50" width="5.2" height="37.90" fill="#4c6783"/>
<rect x="819.42" y="385.50" width="5.2" height="37.90" fill="#4c6783"/>
<path d="M6.25 383.00 C16.12 383.75 49.88 386.33 65.50 387.50 C81.12 388.67 84.25 389.08 100.00 390.00 C115.75 390.92 140.00 392.00 160.00 393.00 C180.00 394.00 204.17 395.33 220.00 396.00 C235.83 396.67 245.00 396.67 255.00 397.00 C265.00 397.33 269.17 397.62 280.00 398.00 C290.83 398.38 309.17 398.92 320.00 399.25 C330.83 399.58 335.00 399.67 345.00 400.00 C355.00 400.33 369.17 400.92 380.00 401.25 C390.83 401.58 400.00 401.71 410.00 402.00 C420.00 402.29 427.50 402.62 440.00 403.00 C452.50 403.38 470.83 403.88 485.00 404.25 C499.17 404.62 514.17 405.12 525.00 405.25 C535.83 405.38 540.83 404.79 550.00 405.00 C559.17 405.21 569.17 406.08 580.00 406.50 C590.83 406.92 605.00 407.25 615.00 407.50 C625.00 407.75 629.58 407.92 640.00 408.00 C650.42 408.08 667.08 407.83 677.50 408.00 C687.92 408.17 692.08 408.67 702.50 409.00 C712.92 409.33 729.58 409.83 740.00 410.00 C750.42 410.17 756.67 410.21 765.00 410.00 C773.33 409.79 780.54 409.04 790.00 408.75 C799.46 408.46 816.46 408.33 821.75 408.25" stroke="#5a5aff" stroke-width="1" fill="none" stroke-linejoin="round"/>
<path d="M6.25 395.00 C10.21 395.08 23.54 395.08 30.00 395.50 C36.46 395.92 37.50 397.04 45.00 397.50 C52.50 397.96 65.83 398.04 75.00 398.25 C84.17 398.46 90.83 398.46 100.00 398.75 C109.17 399.04 120.00 399.50 130.00 400.00 C140.00 400.50 150.00 401.54 160.00 401.75 C170.00 401.96 180.00 401.08 190.00 401.25 C200.00 401.42 210.83 402.42 220.00 402.75 C229.17 403.08 236.67 403.29 245.00 403.25 C253.33 403.21 264.17 402.83 270.00 402.50 C275.83 402.17 275.83 401.46 280.00 401.25 C284.17 401.04 288.33 401.17 295.00 401.25 C301.67 401.33 311.67 401.75 320.00 401.75 C328.33 401.75 336.67 401.33 345.00 401.25 C353.33 401.17 363.33 401.17 370.00 401.25 C376.67 401.33 380.00 401.54 385.00 401.75 C390.00 401.96 394.17 402.04 400.00 402.50 C405.83 402.96 413.33 403.83 420.00 404.50 C426.67 405.17 432.50 405.79 440.00 406.50 C447.50 407.21 456.67 408.29 465.00 408.75 C473.33 409.21 481.67 408.92 490.00 409.25 C498.33 409.58 509.17 410.62 515.00 410.75 C520.83 410.88 519.17 410.12 525.00 410.00 C530.83 409.88 540.83 409.75 550.00 410.00 C559.17 410.25 569.17 411.17 580.00 411.50 C590.83 411.83 605.00 411.96 615.00 412.00 C625.00 412.04 631.67 411.88 640.00 411.75 C648.33 411.62 656.67 411.25 665.00 411.25 C673.33 411.25 681.67 411.54 690.00 411.75 C698.33 411.96 706.67 412.50 715.00 412.50 C723.33 412.50 733.75 412.04 740.00 411.75 C746.25 411.46 748.33 411.12 752.50 410.75 C756.67 410.38 759.79 409.96 765.00 409.50 C770.21 409.04 778.50 408.54 783.75 408.00 C789.00 407.46 792.29 406.75 796.50 406.25 C800.71 405.75 804.79 405.54 809.00 405.00 C813.21 404.46 819.62 403.33 821.75 403.00" stroke="#ff9a3c" stroke-width="1" fill="none" stroke-linejoin="round"/>
<path d="M6.25 396.25 C7.62 397.00 17.12 402.70 20.00 403.75 C22.88 404.80 32.00 406.88 35.00 406.75 C38.00 406.62 47.50 403.30 50.00 402.50 C52.50 401.70 58.45 399.50 60.00 398.75 C61.55 398.00 64.25 395.45 65.50 395.00 C66.75 394.55 70.05 394.32 72.50 394.25 C74.95 394.18 87.75 393.88 90.00 394.25 C92.25 394.62 93.00 397.43 95.00 398.00 C97.00 398.57 106.00 399.80 110.00 400.00 C114.00 400.20 131.25 399.62 135.00 400.00 C138.75 400.38 145.62 403.12 147.50 403.75 C149.38 404.38 152.50 406.38 153.75 406.25 C155.00 406.12 158.38 402.43 160.00 402.50 C161.62 402.57 168.10 406.32 170.00 407.00 C171.90 407.68 177.47 409.20 179.00 409.25 C180.53 409.30 183.40 407.68 185.25 407.50 C187.10 407.32 195.28 408.00 197.50 407.50 C199.72 407.00 205.38 402.88 207.50 402.50 C209.62 402.12 216.50 403.88 218.75 403.75 C221.00 403.62 227.62 401.50 230.00 401.25 C232.38 401.00 240.00 401.62 242.50 401.25 C245.00 400.88 252.25 398.00 255.00 397.50 C257.75 397.00 267.50 397.18 270.00 396.25 C272.50 395.32 278.25 388.68 280.00 388.25 C281.75 387.82 285.75 391.27 287.50 392.00 C289.25 392.73 295.62 395.02 297.50 395.50 C299.38 395.98 304.82 395.93 306.25 396.75 C307.68 397.57 310.57 402.80 311.75 403.75 C312.93 404.70 316.18 405.75 318.00 406.25 C319.82 406.75 326.88 408.45 330.00 408.75 C333.12 409.05 346.25 409.50 349.25 409.25 C352.25 409.00 357.43 406.62 360.00 406.25 C362.57 405.88 372.90 406.00 375.00 405.50 C377.10 405.00 379.25 401.50 381.00 401.25 C382.75 401.00 390.62 402.93 392.50 403.00 C394.38 403.07 398.40 401.68 399.75 402.00 C401.10 402.32 404.75 405.57 406.00 406.25 C407.25 406.93 410.35 408.30 412.25 408.75 C414.15 409.20 422.48 410.55 425.00 410.75 C427.52 410.95 434.50 410.62 437.50 410.75 C440.50 410.88 452.48 412.00 455.00 412.00 C457.52 412.00 459.75 410.75 462.75 410.75 C465.75 410.75 481.23 411.62 485.00 412.00 C488.77 412.38 497.75 414.25 500.50 414.50 C503.25 414.75 510.55 414.50 512.50 414.50 C514.45 414.50 518.67 414.95 520.00 414.50 C521.33 414.05 524.50 410.65 525.75 410.00 C527.00 409.35 530.08 408.30 532.50 408.00 C534.92 407.70 547.50 406.68 550.00 407.00 C552.50 407.32 555.00 410.70 557.50 411.25 C560.00 411.80 571.75 412.20 575.00 412.50 C578.25 412.80 586.00 414.12 590.00 414.25 C594.00 414.38 611.00 413.75 615.00 413.75 C619.00 413.75 627.75 414.10 630.00 414.25 C632.25 414.40 635.25 415.25 637.50 415.25 C639.75 415.25 649.83 414.45 652.50 414.25 C655.17 414.05 661.80 413.68 664.25 413.25 C666.70 412.82 674.48 410.38 677.00 410.00 C679.52 409.62 687.00 409.50 689.50 409.50 C692.00 409.50 700.12 409.70 702.00 410.00 C703.88 410.30 705.73 412.25 708.25 412.50 C710.77 412.75 724.10 412.75 727.25 412.50 C730.40 412.25 737.25 410.45 739.75 410.00 C742.25 409.55 750.35 408.45 752.25 408.00 C754.15 407.55 757.48 406.18 758.75 405.50 C760.02 404.82 763.75 401.93 765.00 401.25 C766.25 400.57 769.38 399.00 771.25 398.75 C773.12 398.50 781.85 399.05 783.75 398.75 C785.65 398.45 788.35 396.00 790.25 395.75 C792.15 395.50 800.88 396.20 802.75 396.25 C804.62 396.30 807.75 396.68 809.00 396.25 C810.25 395.82 813.98 392.50 815.25 392.00 C816.52 391.50 821.10 391.32 821.75 391.25" stroke="#9ee05a" stroke-width="1" fill="none" stroke-linejoin="round"/>
<text x="8.3" y="370.6" font-size="12.7" style="font-family:'Liberation Sans','Noto Sans CJK JP',sans-serif">出来高</text>
<text x="826" y="377" font-size="12.3" letter-spacing="0.5">200,000</text>
<text x="826" y="402.6" font-size="12.3" letter-spacing="0.5">100,000</text>
<clipPath id="c0"><rect x="820" y="410" width="84" height="13.2"/></clipPath>
<text x="826" y="429.5" font-size="12.3" letter-spacing="0.5" clip-path="url(#c0)">0</text>
<text x="100.50" y="437.2" font-size="12.3" letter-spacing="0.5" text-anchor="middle">2021/04</text>
<text x="232.50" y="437.2" font-size="12.3" letter-spacing="0.5" text-anchor="middle">2021/05</text>
<text x="345.50" y="437.2" font-size="12.3" letter-spacing="0.5" text-anchor="middle">2021/06</text>
<text x="484.50" y="437.2" font-size="12.3" letter-spacing="0.5" text-anchor="middle">2021/07</text>
<text x="610.50" y="437.2" font-size="12.3" letter-spacing="0.5" text-anchor="middle">2021/08</text>
<text x="742.50" y="437.2" font-size="12.3" letter-spacing="0.5" text-anchor="middle">2021/09</text>
</svg>
</body></html>
